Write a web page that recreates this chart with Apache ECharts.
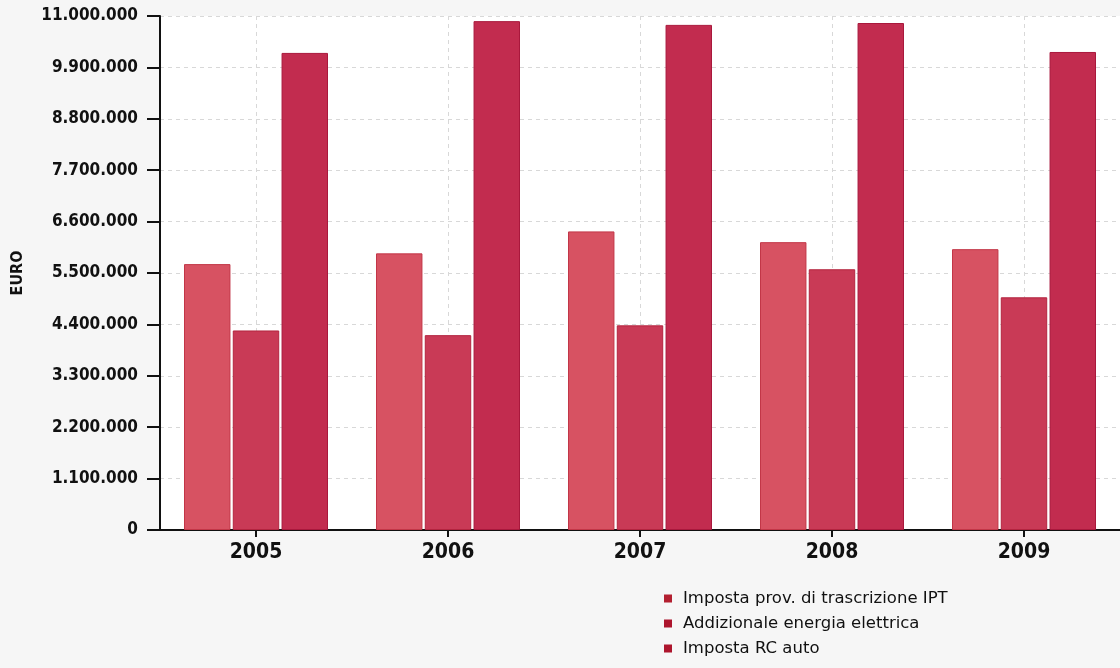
<!DOCTYPE html>
<html>
<head>
<meta charset="utf-8">
<title>Entrate tributarie 2005-2009</title>
<script src="https://cdn.jsdelivr.net/npm/echarts@6/dist/echarts.min.js"></script>
<style>
  html, body { margin: 0; padding: 0; background: #f6f6f6; }
  #chart { width: 1120px; height: 668px; }
</style>
</head>
<body>
<div id="chart"></div>
<script>
// Anni
const years = ['2005', '2006', '2007', '2008', '2009'];

// Gettito in euro per voce
const ipt = [5690000, 5920000, 6390000, 6160000, 6010000];
const energiaElettrica = [4270000, 4170000, 4380000, 5580000, 4980000];
const rcAuto = [10210000, 10890000, 10810000, 10850000, 10230000];

const seriesNames = [
  'Imposta prov. di trascrizione IPT',
  'Addizionale energia elettrica',
  'Imposta RC auto'
];

// Scala asse Y
const yMin = 0;
const yMax = 11000000;
const yStep = 1100000;

const fmtEuro = v => String(v).replace(/\B(?=(\d{3})+(?!\d))/g, '.');

const chart = echarts.init(document.getElementById('chart'));

const barColors = ['#d75262', '#c93a56', '#c22c4f'];
const barBorders = ['#c23647', '#b3243f', '#a9183c'];
const legendColors = ['#b31f30', '#ad152d', '#ad152d'];

const values = [ipt, energiaElettrica, rcAuto];

chart.setOption({
  backgroundColor: '#f6f6f6',
  animation: false,
  grid: {
    left: 160, right: 0, top: 16, bottom: 138,
    show: true, backgroundColor: '#ffffff', borderWidth: 0
  },
  legend: {
    orient: 'vertical',
    left: 659, top: 585,
    itemWidth: 8, itemHeight: 8,
    itemGap: 8,
    icon: 'rect',
    textStyle: {
      fontFamily: 'DejaVu Sans',
      fontSize: 16.5, color: '#111', padding: [0, 0, 0, 6]
    },
    data: seriesNames.map((n, i) => ({ name: n, itemStyle: { color: legendColors[i], borderWidth: 0 } }))
  },
  xAxis: {
    type: 'category',
    data: years,
    axisLine: { lineStyle: { color: '#111', width: 2 } },
    axisTick: { show: true, alignWithLabel: true, length: 7, lineStyle: { color: '#111', width: 2 } },
    axisLabel: {
      margin: 12,
      fontFamily: 'DejaVu Sans Condensed', fontWeight: 'bold',
      fontSize: 21, color: '#111'
    },
    splitLine: {
      show: true, alignWithLabel: true,
      lineStyle: { color: '#d8d8d8', type: [4, 4], width: 1 }
    }
  },
  yAxis: {
    type: 'value',
    min: yMin, max: yMax, interval: yStep,
    name: 'EURO',
    nameLocation: 'middle',
    nameRotate: 90,
    nameGap: 134,
    nameTextStyle: {
      fontFamily: 'DejaVu Sans Condensed', fontWeight: 'bold',
      fontSize: 16, color: '#111'
    },
    axisLine: { show: true, lineStyle: { color: '#111', width: 2 } },
    axisTick: { show: true, length: 13, lineStyle: { color: '#111', width: 2 } },
    axisLabel: {
      margin: 22,
      formatter: v => fmtEuro(v),
      fontFamily: 'DejaVu Sans Condensed', fontWeight: 'bold',
      fontSize: 17, color: '#111'
    },
    splitLine: { show: true, lineStyle: { color: '#d8d8d8', type: [4, 4], width: 1 } }
  },
  series: seriesNames.map((n, i) => ({
    name: n,
    type: 'bar',
    data: values[i],
    barGap: '5%',
    barCategoryGap: '25%',
    itemStyle: { color: barColors[i], borderColor: barBorders[i], borderWidth: 1 }
  }))
});
</script>
</body>
</html>
